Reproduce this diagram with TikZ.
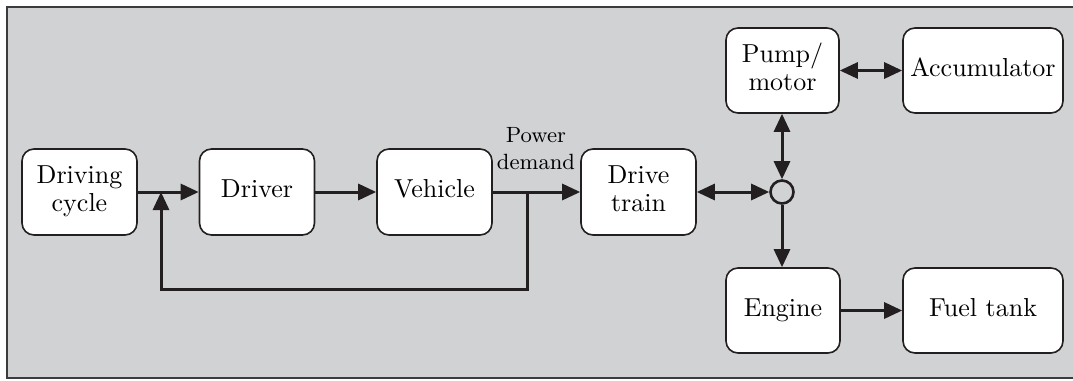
\documentclass[tikz,border=0pt]{standalone}
\usepackage{graphicx}
\usetikzlibrary{arrows.meta}
\definecolor{bgc}{HTML}{D1D2D4}
\definecolor{ink}{HTML}{231F20}
\definecolor{framec}{HTML}{3C3C3C}
\newcommand{\bigtxt}[1]{\scalebox{2.6}{\renewcommand{\arraystretch}{0.9}\begin{tabular}{@{}c@{}}#1\end{tabular}}}
\newcommand{\smalltxt}[1]{\scalebox{2.45}{\small\renewcommand{\arraystretch}{1.0}\begin{tabular}{@{}c@{}}#1\end{tabular}}}
\begin{document}
\begin{tikzpicture}[x=1pt,y=-1pt,
  blk/.style={draw=ink, line width=1.6pt, fill=white, rounded corners=12pt,
    inner sep=0pt, align=center},
  arr/.style={draw=ink, line width=3pt, -{Triangle[length=18pt,width=16pt]}},
  darr/.style={draw=ink, line width=3pt, {Triangle[length=18pt,width=16pt]}-{Triangle[length=18pt,width=16pt]}},
  junc/.style={circle, draw=ink, line width=2.6pt, fill=bgc, minimum size=23pt, inner sep=0pt},
  lbl/.style={align=center, inner sep=0pt}]
\useasboundingbox (0,0) rectangle (1073,380);
\fill[bgc] (6,7) rectangle (1080,378);
\draw[framec, line width=1.6pt] (1080,7) -- (6.8,7) -- (6.8,378) -- (1080,378);
% blocks
\node[blk, minimum width=115pt, minimum height=86pt] (dc) at (79.5,192) {\bigtxt{Driving\\cycle}};
\node[blk, minimum width=115pt, minimum height=86pt] (drv) at (257,192) {\bigtxt{Driver}};
\node[blk, minimum width=115pt, minimum height=86pt] (veh) at (434.5,192) {\bigtxt{Vehicle}};
\node[blk, minimum width=115pt, minimum height=86pt] (dt) at (638.5,192) {\bigtxt{Drive\\train}};
\node[junc] (j) at (782,192) {};
\node[blk, minimum width=113pt, minimum height=85pt] (pm) at (782.5,70.5) {\bigtxt{Pump/\\motor}};
\node[blk, minimum width=160pt, minimum height=85pt] (acc) at (983,70.5) {\bigtxt{Accumulator}};
\node[blk, minimum width=114pt, minimum height=85pt] (eng) at (783,310.5) {\bigtxt{Engine}};
\node[blk, minimum width=160pt, minimum height=85pt] (ft) at (983,310.5) {\bigtxt{Fuel tank}};
\node[lbl] (pd) at (536,151) {\smalltxt{Power\\demand}};
% feedback coordinates
\coordinate (fb) at (527,192);
\coordinate (fbA) at (527,289);
\coordinate (fbB) at (161,289);
\coordinate (fbT) at (161,192);
% connectors
\draw[arr] (dc.east) -- (drv.west);
\draw[arr] (drv.east) -- (veh.west);
\draw[arr] (veh.east) -- (dt.west);
\draw[arr, line join=miter] (fb) -- (fbA) -- (fbB) -- (fbT);
\draw[darr] (dt.east) -- (j.west);
\draw[darr] (pm.south -| j) -- (j.north);
\draw[arr] (j.south) -- (eng.north -| j);
\draw[darr] (pm.east) -- (acc.west);
\draw[arr] (eng.east) -- (ft.west);
\end{tikzpicture}
\end{document}
